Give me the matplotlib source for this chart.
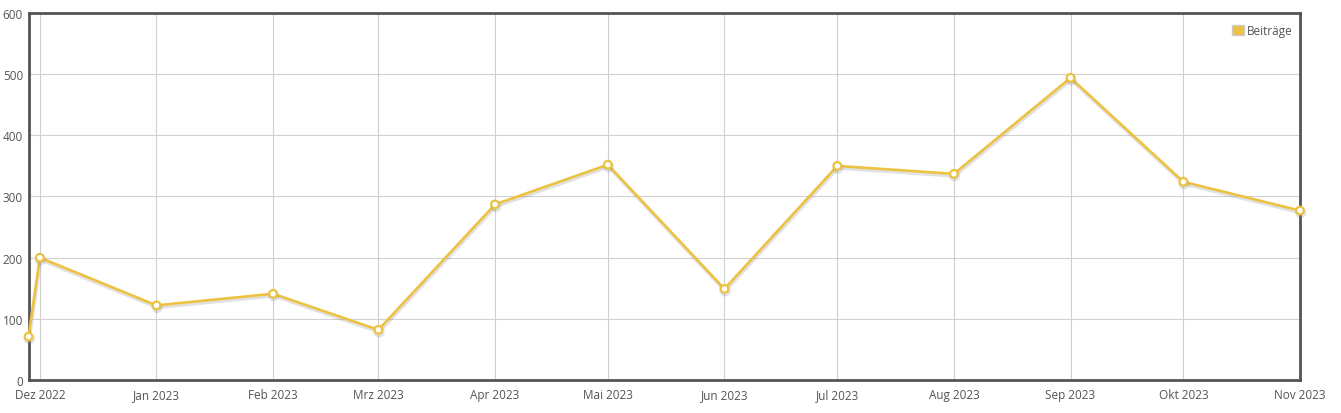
import datetime as dt

import matplotlib.patheffects as pe
import matplotlib.pyplot as plt
from matplotlib.patches import Patch

plt.rcParams["font.family"] = ["Open Sans", "DejaVu Sans"]

# Data
DATES = [
    dt.date(2022, 11, 28), dt.date(2022, 12, 1), dt.date(2023, 1, 1),
    dt.date(2023, 2, 1), dt.date(2023, 3, 1), dt.date(2023, 4, 1),
    dt.date(2023, 5, 1), dt.date(2023, 6, 1), dt.date(2023, 7, 1),
    dt.date(2023, 8, 1), dt.date(2023, 9, 1), dt.date(2023, 10, 1),
    dt.date(2023, 11, 1),
]
BEITRAEGE = [71, 200, 122, 141, 82, 287, 352, 149, 350, 337, 494, 324, 277]

TICK_DATES = [dt.date(2022, 12, 1)] + [dt.date(2023, m, 1) for m in range(1, 12)]
TICK_LABELS = ["Dez 2022", "Jan 2023", "Feb 2023", "Mrz 2023", "Apr 2023",
               "Mai 2023", "Jun 2023", "Jul 2023", "Aug 2023", "Sep 2023",
               "Okt 2023", "Nov 2023"]

LINE_COLOR = "#EDC240"
GRID_COLOR = "#D0D0D0"
FRAME_COLOR = "#545454"
TEXT_COLOR = "#545454"

fig = plt.figure(figsize=(13.41, 4.14), dpi=100)
ax = fig.add_axes([0.0213, 0.0797, 0.9481, 0.8865])

ax.plot(DATES, BEITRAEGE, color=LINE_COLOR, linewidth=1.9, zorder=3,
        marker="o", markersize=5.5, markerfacecolor="white",
        markeredgecolor=LINE_COLOR, markeredgewidth=1.6, clip_on=False,
        path_effects=[pe.SimpleLineShadow(offset=(0.5, -1.5), shadow_color="#888888",
                                          alpha=0.25, linewidth=2.5),
                      pe.Normal()])

ax.set_xlim(DATES[0], DATES[-1])
ax.set_ylim(0, 600)
ax.set_yticks(range(0, 601, 100))

ax.grid(True, color=GRID_COLOR, linewidth=0.8)
ax.set_axisbelow(True)
ax.tick_params(length=0, labelsize=8.5, colors=TEXT_COLOR)
ax.tick_params(axis="x", pad=13)
ax.tick_params(axis="y", pad=4)
ax.set_xticks(TICK_DATES, TICK_LABELS, va="baseline")

for spine in ax.spines.values():
    spine.set_color(FRAME_COLOR)
    spine.set_linewidth(2.0)

handles = [Patch(facecolor=LINE_COLOR, edgecolor="#CCCCCC", linewidth=1.0,
                 label="Beiträge")]
ax.legend(handles=handles, loc="upper right", bbox_to_anchor=(0.9945, 0.97),
          frameon=False, fontsize=8.5, borderpad=0, borderaxespad=0,
          handlelength=1.0, handleheight=1.0, handletextpad=0.3,
          labelcolor=TEXT_COLOR)

fig.savefig("out.png", dpi=100, facecolor="white")
